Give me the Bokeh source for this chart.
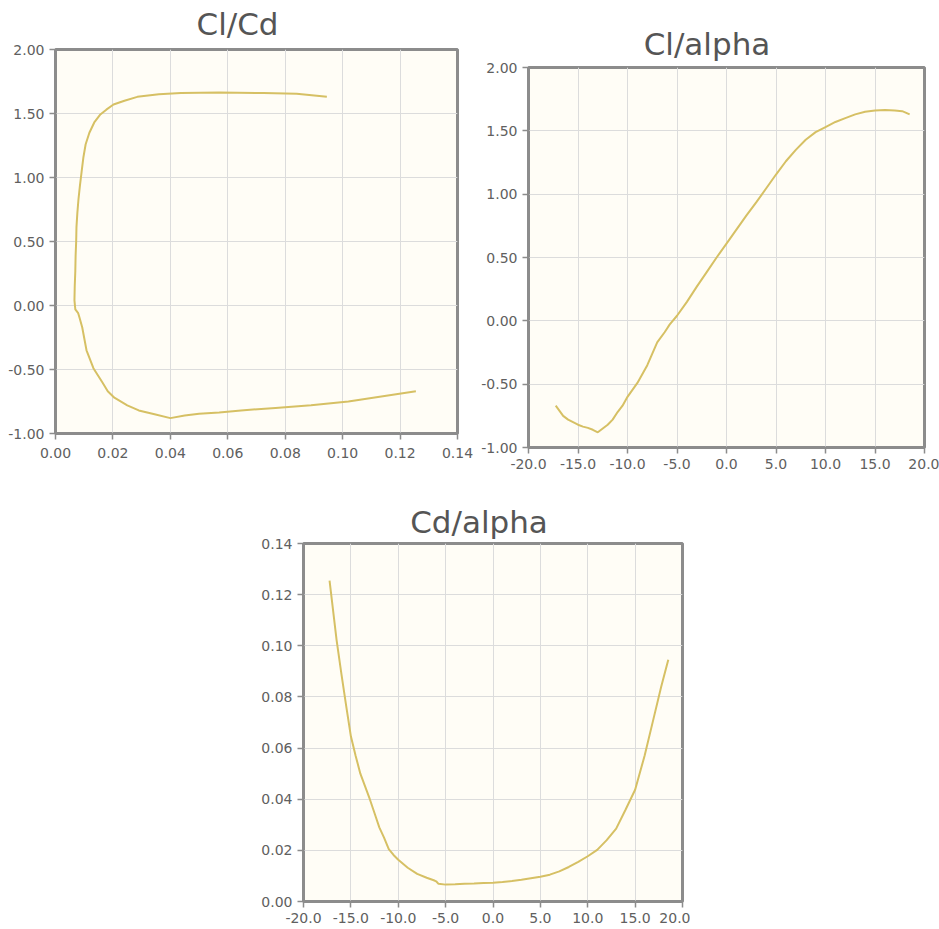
from bokeh.plotting import figure
from bokeh.layouts import row, column, Spacer
from bokeh.models import FixedTicker, NumeralTickFormatter, Range1d, Div
from bokeh.embed import file_html
from bokeh.resources import INLINE

# Polar data (angle of attack in degrees, lift coefficient, drag coefficient)
alpha = [-17.25, -16.5, -16.0, -15.5, -15.0, -14.5, -14.0, -13.5, -13.0, -12.5,
         -12.0, -11.5, -11.0, -10.5, -10.0, -9.0, -8.0, -7.0, -6.25, -6.0,
         -5.75, -5.0, -4.0, -3.0, -2.0, -1.0, 0.0, 1.0, 2.0, 3.0,
         4.0, 5.0, 6.0, 7.0, 8.0, 9.0, 10.0, 11.0, 12.0, 13.0,
         14.0, 15.0, 16.0, 17.0, 17.75, 18.5]
cl = [-0.67, -0.75, -0.78, -0.80, -0.82, -0.835, -0.845, -0.86, -0.88, -0.85,
      -0.82, -0.78, -0.72, -0.67, -0.60, -0.49, -0.35, -0.17, -0.09, -0.06,
      -0.03, 0.04, 0.15, 0.27, 0.385, 0.50, 0.61, 0.72, 0.83, 0.935,
      1.045, 1.155, 1.26, 1.35, 1.43, 1.49, 1.53, 1.57, 1.60, 1.63,
      1.65, 1.66, 1.665, 1.66, 1.655, 1.63]
cd = [0.1255, 0.102, 0.089, 0.0766, 0.0646, 0.057, 0.050, 0.045, 0.040, 0.0345,
      0.029, 0.025, 0.0205, 0.0182, 0.0163, 0.0132, 0.0108, 0.0093, 0.0083, 0.0079,
      0.0069, 0.0066, 0.0067, 0.0069, 0.0070, 0.0072, 0.0073, 0.0076, 0.0080, 0.0085,
      0.0091, 0.0097, 0.0105, 0.0118, 0.0135, 0.0155, 0.0177, 0.0202, 0.0240, 0.0285,
      0.0360, 0.0437, 0.0570, 0.0724, 0.0840, 0.0945]

cd_ticks = [0.0, 0.02, 0.04, 0.06, 0.08, 0.10, 0.12, 0.14]
cl_ticks = [-1.0, -0.5, 0.0, 0.5, 1.0, 1.5, 2.0]
alpha_ticks = [-20, -15, -10, -5, 0, 5, 10, 15, 20]

LINE = "#d6c064"
BG = "#fffdf6"
GRID = "#dcdcdc"
FRAME = "#8c8c8c"
LABEL = "#606060"


def title_div(text, width, height, pad_top):
    html = ('<div style="width:%dpx;padding-top:%dpx;line-height:31px;'
            'font-family:\'DejaVu Sans\';font-size:31px;color:#555555;'
            'text-align:center;white-space:nowrap">%s</div>'
            % (width, pad_top, text))
    return Div(text=html, width=width, height=height, margin=0,
               styles={"overflow": "visible"})


def make(xs, ys, xr, yr, xt, yt, xf, yf, fw, fh, bl, br, bb, xstand):
    p = figure(title=None, frame_width=fw, frame_height=fh,
               x_range=Range1d(*xr), y_range=Range1d(*yr),
               min_border_left=bl, min_border_top=10,
               min_border_right=br, min_border_bottom=bb,
               output_backend="svg", toolbar_location=None)
    p.background_fill_color = BG
    p.border_fill_color = None
    p.outline_line_color = FRAME
    p.outline_line_width = 3
    p.line(xs, ys, line_color=LINE, line_width=2)
    p.xaxis.ticker = FixedTicker(ticks=xt)
    p.yaxis.ticker = FixedTicker(ticks=yt)
    p.xaxis.formatter = NumeralTickFormatter(format=xf)
    p.yaxis.formatter = NumeralTickFormatter(format=yf)
    for ax in (p.xaxis, p.yaxis):
        ax.axis_line_color = FRAME
        ax.axis_line_width = 2
        ax.major_tick_line_color = FRAME
        ax.major_tick_line_width = 1.5
        ax.major_tick_out = 6
        ax.major_tick_in = 0
        ax.minor_tick_line_color = None
        ax.major_label_text_font = "DejaVu Sans"
        ax.major_label_text_font_size = "14px"
        ax.major_label_text_color = LABEL
    p.xaxis.major_label_standoff = xstand
    p.yaxis.major_label_standoff = 5
    p.xgrid.ticker = FixedTicker(ticks=xt)
    p.ygrid.ticker = FixedTicker(ticks=yt)
    p.grid.grid_line_color = GRID
    p.grid.grid_line_width = 1
    return p


p1 = make(cd, cl, (0, 0.14), (-1, 2), cd_ticks, cl_ticks, "0.00", "0.00",
          402, 384, 55, 18, 37, 8)
p2 = make(alpha, cl, (-20, 20), (-1, 2), alpha_ticks, cl_ticks, "0.0", "0.00",
          396, 380, 53, 15, 28, 5)
p3 = make(alpha, cd, (-20, 20), (0, 0.14), alpha_ticks, cd_ticks, "0.0", "0.00",
          379, 358, 63, 8, 20, 5)

t1 = title_div("Cl/Cd", 475, 39, 9)
t2 = title_div("Cl/alpha", 464, 57, 29)
t3 = title_div("Cd/alpha", 478, 58, 32)

layout = column(
    row(column(t1, p1), column(t2, p2)),
    row(Spacer(width=240, height=10), column(t3, p3)),
)

with open("out.html", "w") as f:
    f.write(file_html(layout, INLINE))
